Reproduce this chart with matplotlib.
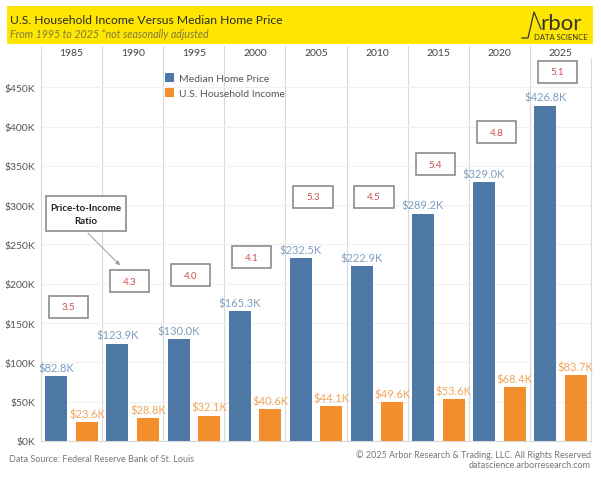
import numpy as np
import matplotlib.pyplot as plt
from matplotlib.patches import Rectangle

plt.rcParams['font.family'] = ['Lato', 'DejaVu Sans']

years = ['1985', '1990', '1995', '2000', '2005', '2010', '2015', '2020', '2025']
home_price = [82.8, 123.9, 130.0, 165.3, 232.5, 222.9, 289.2, 329.0, 426.8]
income = [23.6, 28.8, 32.1, 40.6, 44.1, 49.6, 53.6, 68.4, 83.7]
ratio = ['3.5', '4.3', '4.0', '4.1', '5.3', '4.5', '5.4', '4.8', '5.1']
# where the ratio boxes sit (in $K)
ratio_box_y = [171, 203, 211, 234, 311, 311, 352, 393, 470]

BLUE = '#4e79a7'
ORANGE = '#f28e2b'
GRID = '#d9d9d9'

W, H = 601, 481
fig = plt.figure(figsize=(W / 100, H / 100), dpi=100)

def fx(px):
    return px / W

def fy(py):
    return 1 - py / H

# yellow banner
fig.patches.append(Rectangle((fx(7), fy(45)), fx(586), 38 / H, transform=fig.transFigure,
                             facecolor='#ffe600', edgecolor='none', zorder=-5))
fig.text(fx(10), fy(20.5), 'U.S. Household Income Versus Median Home Price',
         fontsize=8.7, color='#2a2a2a', va='center')
fig.text(fx(10), fy(35), 'From 1995 to 2025 *not seasonally adjusted',
         fontsize=7.7, style='italic', color='#7d7a3c', va='center')

# logo (axes spans px x 518..593, y 8..42)
logo = fig.add_axes([fx(518), fy(42), fx(75), 34 / H], zorder=5)
logo.set_xlim(0, 75)
logo.set_ylim(34, 0)
logo.axis('off')
logo.plot([4, 10, 16, 23], [31, 31, 5, 22], color='#333333', lw=0.9)
logo.text(22.5, 22, 'rbor', fontsize=16, color='#333333', va='baseline', ha='left')
logo.text(70, 32, 'DATA SCIENCE', fontsize=5.5, color='#333333', va='baseline', ha='right')

x = np.arange(len(years))
x0, x1 = fx(41), fx(591)

# header row with years
hdr = fig.add_axes([x0, fy(60), x1 - x0, 13 / H])
hdr.set_xlim(-0.5, len(years) - 0.5)
hdr.set_ylim(0, 1)
for i, yr in enumerate(years):
    hdr.text(i, 0.5, yr, ha='center', va='center', fontsize=7.5, color='#444444')
for b in np.arange(-0.5, len(years), 1):
    hdr.axvline(b, color=GRID, lw=0.8)
hdr.axhline(0, color='#e6e6e6', lw=0.8)
hdr.set_xticks([])
hdr.set_yticks([])
for s in hdr.spines.values():
    s.set_visible(False)

# main chart
ax = fig.add_axes([x0, fy(442), x1 - x0, (442 - 60) / H])
ax.set_xlim(-0.5, len(years) - 0.5)
ax.set_ylim(0, 486)
bw = 0.36
ax.bar(x - 0.25, home_price, bw, color=BLUE, label='Median Home Price', zorder=3)
ax.bar(x + 0.25, income, bw, color=ORANGE, label='U.S. Household Income', zorder=3)

for i in range(len(years)):
    ax.annotate('${:.1f}K'.format(home_price[i]), (x[i] - 0.25, home_price[i]),
                xytext=(0, 2), textcoords='offset points', ha='center', va='bottom',
                fontsize=8, color='#7f9dbd')
    ax.annotate('${:.1f}K'.format(income[i]), (x[i] + 0.25, income[i]),
                xytext=(0, 2), textcoords='offset points', ha='center', va='bottom',
                fontsize=8, color='#f0a55c')
    bx = x[i] - 0.05
    ax.add_patch(Rectangle((bx - 0.32, ratio_box_y[i] - 14), 0.64, 28, facecolor='white',
                           edgecolor='#8c8c8c', lw=1.2, zorder=4))
    ax.text(bx, ratio_box_y[i], ratio[i], ha='center', va='center', fontsize=7,
            color='#c9514f', zorder=5)

# callout
ax.add_patch(Rectangle((-0.418, 267), 1.309, 44.7, facecolor='white', edgecolor='#8c8c8c',
                       lw=1.2, zorder=4))
ax.text(0.236, 289, 'Price-to-Income\nRatio', ha='center', va='center', fontsize=7,
        fontweight='bold', color='#222222', linespacing=1.5, zorder=5)
ax.annotate('', xy=(0.826, 221), xytext=(0.236, 267),
            arrowprops=dict(arrowstyle='-|>', color='#999999', lw=0.7, mutation_scale=6),
            zorder=5)

ax.set_yticks(np.arange(0, 451, 50))
ax.set_yticklabels(['${}K'.format(v) for v in range(0, 451, 50)])
ax.tick_params(axis='y', length=0, labelsize=7.5, labelcolor='#555555', pad=4)
ax.set_xticks([])
ax.grid(axis='y', color='#f0f0f0', lw=0.8, zorder=0)
for b in np.arange(0.5, len(years) - 0.5, 1):
    ax.axvline(b, color=GRID, lw=0.8, zorder=1)
for name, s in ax.spines.items():
    s.set_visible(name in ('left', 'right', 'bottom'))
    s.set_color(GRID)
    s.set_linewidth(0.8)

ax.legend(loc='upper left', bbox_to_anchor=(120 / 550, 1 - 10 / 382),
          frameon=False, fontsize=7.5, labelcolor='#555555', handlelength=0.8,
          handleheight=0.9, handletextpad=0.5, borderaxespad=0, labelspacing=0.5)

fig.text(fx(9), fy(460), 'Data Source: Federal Reserve Bank of St. Louis', fontsize=6.5,
         color='#777777', va='center')
fig.text(fx(591), fy(455), '\u00a9 2025 Arbor Research & Trading, LLC. All Rights Reserved',
         fontsize=6.5, color='#777777', va='center', ha='right')
fig.text(fx(591), fy(466), 'datascience.arborresearch.com', fontsize=6.5,
         color='#777777', va='center', ha='right')

fig.savefig('out.png', dpi=100, facecolor='white')
